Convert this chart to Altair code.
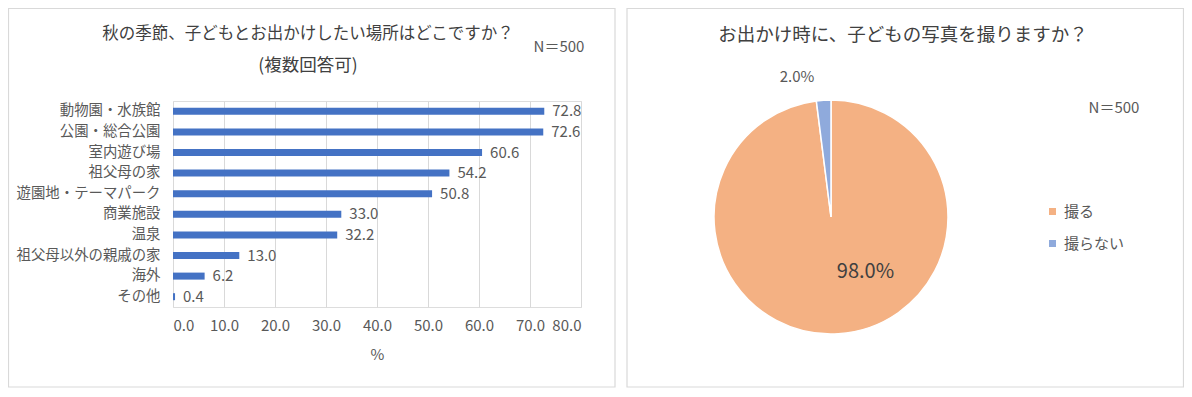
import altair as alt
import pandas as pd

# ---- data ----
places = ["動物園・水族館", "公園・総合公園", "室内遊び場", "祖父母の家", "遊園地・テーマパーク",
          "商業施設", "温泉", "祖父母以外の親戚の家", "海外", "その他"]
place_pct = [72.8, 72.6, 60.6, 54.2, 50.8, 33.0, 32.2, 13.0, 6.2, 0.4]
x_ticks = [0, 10, 20, 30, 40, 50, 60, 70, 80]

photo_answers = ["撮る", "撮らない"]
photo_pct = [98.0, 2.0]

FONT = "Noto Sans CJK JP"
TXT = "#595959"
DARK = "#404040"

bars_df = pd.DataFrame({"place": places, "pct": place_pct})
pie_df = pd.DataFrame({"answer": photo_answers, "pct": photo_pct,
                       "order": list(range(len(photo_answers)))})
pie_df["label"] = [f"{v:.1f}%" for v in photo_pct]
one = pd.DataFrame({"k": [0]})

# panel borders
border_l = alt.Chart(one).mark_rect(fill=None, stroke="#D9D9D9", strokeWidth=1.2).encode(
    x=alt.value(-164.5), x2=alt.value(442), y=alt.value(-92.5), y2=alt.value(286))
border_r = alt.Chart(one).mark_rect(fill=None, stroke="#D9D9D9", strokeWidth=1.2).encode(
    x=alt.value(454), x2=alt.value(1010.5), y=alt.value(-92.5), y2=alt.value(286))

x_enc = alt.X("pct:Q", scale=alt.Scale(domain=[0, 80], nice=False),
              axis=alt.Axis(values=x_ticks, format=".1f", title="%", grid=True,
                            gridColor="#D9D9D9", domain=False, ticks=False,
                            labelFont=FONT, labelFontSize=15, labelColor=TXT,
                            labelPadding=11, titleFont=FONT, titleFontSize=15,
                            titleColor=TXT, titleFontWeight="normal", titlePadding=14))
y_enc = alt.Y("place:N", sort=places, scale=alt.Scale(paddingInner=0.66, paddingOuter=0.33),
              axis=alt.Axis(title=None, domain=False, ticks=False, labelFont=FONT,
                            labelFontSize=14.4, labelColor=TXT, labelPadding=13))

bars = alt.Chart(bars_df).mark_bar(color="#4472C4").encode(x=x_enc, y=y_enc)
bar_labels = alt.Chart(bars_df).mark_text(align="left", baseline="middle", dx=8,
                                          font=FONT, fontSize=15, color=TXT).encode(
    x="pct:Q", y=alt.Y("place:N", sort=places),
    text=alt.Text("pct:Q", format=".1f"))

def txt(s, x, y, size, color=DARK, align="center"):
    return alt.Chart(one).mark_text(font=FONT, fontSize=size, color=color,
                                    align=align, baseline="middle").encode(
        x=alt.value(x), y=alt.value(y), text=alt.value(s))

titles = [
    txt("秋の季節、子どもとお出かけしたい場所はどこですか？", 135, -67, 16.5),
    txt("(複数回答可)", 135, -35, 17.5),
    txt("N＝500", 386, -54, 15, TXT),
    txt("お出かけ時に、子どもの写真を撮りますか？", 730, -66, 18.5),
    txt("N＝500", 941, 7, 15, TXT),
]

CX, CY = 658, 116
pie = alt.Chart(pie_df).mark_arc(radius=117, stroke="white", strokeWidth=1.5).encode(
    x=alt.value(CX), y=alt.value(CY),
    theta=alt.Theta("pct:Q", stack=True),
    order=alt.Order("order:Q"),
    color=alt.Color("answer:N", sort=photo_answers,
                    scale=alt.Scale(domain=photo_answers, range=["#F4B183", "#8FAADC"]),
                    legend=alt.Legend(title=None, orient="none", legendX=872, legendY=103,
                                      symbolType="square", symbolSize=49,
                                      symbolStrokeWidth=0, labelFont=FONT,
                                      labelFontSize=15, labelColor=TXT,
                                      labelOffset=4, rowPadding=16, padding=0)))

pie_lbl_small = alt.Chart(pie_df).mark_text(font=FONT, fontSize=15, color=TXT,
                                            dx=-25, dy=3).encode(
    x=alt.value(CX), y=alt.value(CY),
    theta=alt.Theta("pct:Q", stack=True), order=alt.Order("order:Q"),
    radius=alt.value(143),
    text=alt.condition(alt.datum.answer == "撮らない", "label:N", alt.value("")))
pie_lbl_big = alt.Chart(pie_df).mark_text(font=FONT, fontSize=20, color=DARK,
                                          dx=31, dy=0).encode(
    x=alt.value(CX), y=alt.value(CY),
    theta=alt.Theta("pct:Q", stack=True), order=alt.Order("order:Q"),
    radius=alt.value(55),
    text=alt.condition(alt.datum.answer == "撮る", "label:N", alt.value("")))

chart = alt.layer(border_l, border_r, bars, bar_labels, *titles, pie,
                  pie_lbl_small, pie_lbl_big).properties(
    width=408, height=206,
    autosize=alt.AutoSizeParams(type="none"),
    padding={"left": 165, "top": 93, "right": 603, "bottom": 82},
).configure_view(stroke=None).configure(background="white")

chart.save("out.html", embed_options={"renderer": "svg", "actions": False})
